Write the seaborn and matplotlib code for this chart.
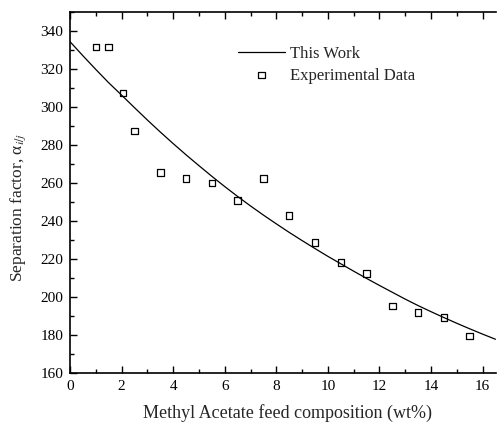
import matplotlib
matplotlib.use("Agg")
import matplotlib.pyplot as plt
from matplotlib.ticker import MultipleLocator
import seaborn as sns
import pandas as pd

# Experimental data
exp_x = [1.0, 1.5, 2.05, 2.5, 3.5, 4.5, 5.5, 6.5, 7.5, 8.5, 9.5, 10.5, 11.5, 12.5, 13.5, 14.5, 15.5]
exp_y = [331.5, 331.5, 307.5, 287.5, 265.5, 262.5, 260.0, 251.0, 262.5, 242.9, 228.9, 218.4, 212.6, 195.4, 192.1, 189.4, 179.6]

# Model curve ("This Work")
model_x = [0, 0.5, 1, 1.5, 2, 2.5, 3, 3.5, 4, 4.5, 5, 5.5, 6, 6.5, 7, 7.5, 8, 8.5,
           9, 9.5, 10, 10.5, 11, 11.5, 12, 12.5, 13, 13.5, 14, 14.5, 15, 15.5, 16, 16.5]
model_y = [334.4, 327.0, 319.8, 312.8, 306.3, 299.7, 293.2, 286.9, 280.8, 274.9, 269.2, 263.6, 258.2, 253.0,
           248.0, 243.2, 238.6, 234.1, 229.8, 225.6, 221.5, 217.6, 213.7, 209.9, 206.2, 202.6, 199.0, 195.6,
           192.4, 189.3, 186.3, 183.4, 180.6, 177.9]

sns.set_style("ticks")
plt.rcParams['font.family'] = ['Liberation Serif', 'DejaVu Serif']
plt.rcParams['mathtext.fontset'] = 'stix'

fig = plt.figure(figsize=(4.97, 4.26), dpi=100)
ax = fig.add_axes([70/497, (426-373.3)/426, 425.5/497, (373.3-12)/426])

df_model = pd.DataFrame({"x": model_x, "y": model_y})
df_exp = pd.DataFrame({"x": exp_x, "y": exp_y})

sns.lineplot(data=df_model, x="x", y="y", ax=ax, color="black", linewidth=0.9,
             label="This Work", estimator=None, sort=False)
sns.scatterplot(data=df_exp, x="x", y="y", ax=ax, marker="s", s=22,
                facecolor="none", edgecolor="black", linewidth=0.9,
                label="Experimental Data")

ax.set_xlim(0, 16.5)
ax.set_ylim(160, 350)
ax.xaxis.set_major_locator(MultipleLocator(2))
ax.xaxis.set_minor_locator(MultipleLocator(1))
ax.yaxis.set_major_locator(MultipleLocator(20))
ax.yaxis.set_minor_locator(MultipleLocator(10))

ax.tick_params(axis='both', which='both', direction='in', top=True, right=False,
               labelsize=11, width=1.0, colors='black')
ax.tick_params(axis='both', which='major', length=5, pad=5)
ax.tick_params(axis='both', which='minor', length=3)

for side in ['left', 'bottom', 'top']:
    ax.spines[side].set_linewidth(1.2)
    ax.spines[side].set_color('black')
ax.spines['right'].set_visible(False)

ax.set_xlabel("Methyl Acetate feed composition (wt%)", fontsize=13)
ax.xaxis.set_label_coords(0.512, -0.085)
ax.set_ylabel(r"Separation factor, α$_{i/j}$", fontsize=12.5)
ax.yaxis.set_label_coords(-0.099, 0.46)

leg = ax.legend(loc='upper left', bbox_to_anchor=(0.379, 0.925), frameon=False,
                fontsize=12, handlelength=2.8, handletextpad=0.3, labelspacing=0.35,
                borderaxespad=0)

fig.savefig("out.png", dpi=100)
